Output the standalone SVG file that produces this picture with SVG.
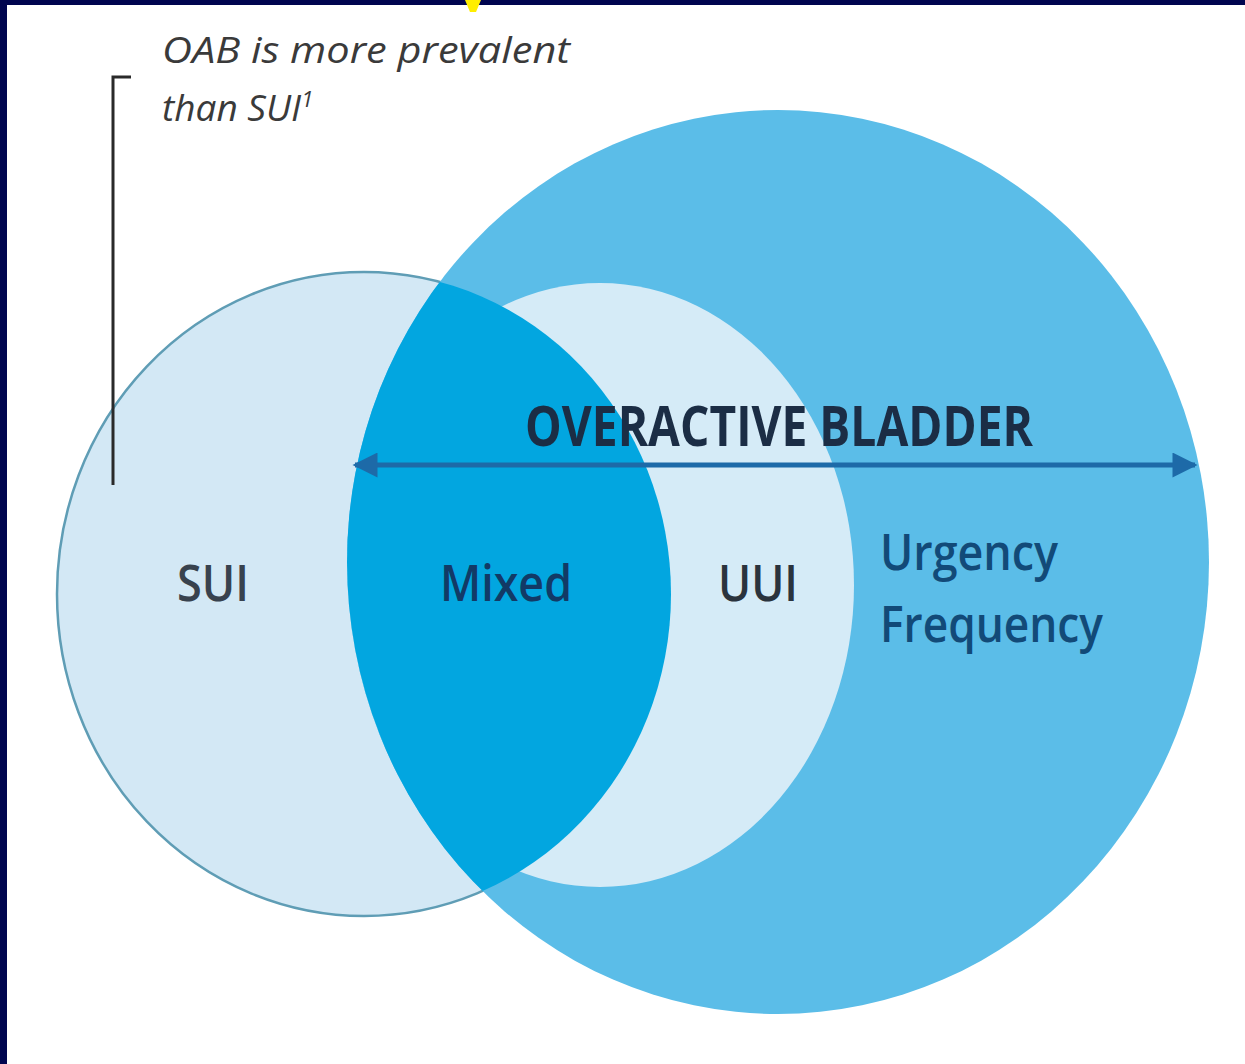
<svg xmlns="http://www.w3.org/2000/svg" width="1245" height="1064" viewBox="0 0 1245 1064">
<defs>
<style>
.lbl{font-family:"Open Sans","Noto Sans","DejaVu Sans",sans-serif;font-weight:600}
.title{font-family:"Open Sans","Noto Sans","DejaVu Sans",sans-serif;font-weight:700}
.note{font-family:"Open Sans","Noto Sans","DejaVu Sans",sans-serif;font-style:italic;font-size:37px;fill:#3a3a3a}
</style>
<clipPath id="bigClip"><ellipse cx="778" cy="562" rx="431" ry="452"/></clipPath>
<marker id="ah" viewBox="0 0 10 10" refX="9" refY="5" markerWidth="9" markerHeight="5" markerUnits="strokeWidth" orient="auto-start-reverse">
<path d="M0,0 L10,5 L0,10 Z" fill="#1d6aa8"/>
</marker>
</defs>
<rect x="0" y="0" width="1245" height="1064" fill="#00054f"/>
<rect x="7" y="5" width="1238" height="1059" fill="#ffffff"/>
<path d="M465,0 L481,0 L476,12 L470,12 Z" fill="#ffee00"/>
<g id="sui-circle">
<ellipse cx="364" cy="594" rx="307" ry="322" fill="#d3e8f5" stroke="#5f9db5" stroke-width="2.5"/>
</g>
<g id="oab-circle">
<ellipse cx="778" cy="562" rx="431" ry="452" fill="#5bbde8"/>
</g>
<g id="uui-ellipse">
<ellipse cx="600" cy="585" rx="254" ry="302" fill="#d5ebf7" clip-path="url(#bigClip)"/>
</g>
<g id="mixed">
<ellipse cx="364" cy="594" rx="307" ry="322" fill="#02a6e0" clip-path="url(#bigClip)"/>
</g>
<g id="note">
<path d="M131,77 L113,77 L113,485" fill="none" stroke="#2a2a2a" stroke-width="3"/>
<text class="note" x="162" y="63" textLength="408" lengthAdjust="spacingAndGlyphs">OAB is more prevalent</text>
<text class="note" x="162" y="121">than SUI<tspan font-size="22" dy="-14">1</tspan></text>
</g>
<g id="connectors">
<line x1="355" y1="465" x2="1195" y2="465" stroke="#1d6aa8" stroke-width="5" marker-start="url(#ah)" marker-end="url(#ah)"/>
</g>
<g id="labels">
<text class="title" x="525" y="446" font-size="56" fill="#1b2d45" textLength="508" lengthAdjust="spacingAndGlyphs">OVERACTIVE BLADDER</text>
<text class="lbl" x="177" y="601" font-size="50" fill="#38424e" textLength="72" lengthAdjust="spacingAndGlyphs">SUI</text>
<text class="lbl" x="440" y="601" font-size="50" fill="#123a66" textLength="132" lengthAdjust="spacingAndGlyphs">Mixed</text>
<text class="lbl" x="718" y="601" font-size="50" fill="#2a333d" textLength="80" lengthAdjust="spacingAndGlyphs">UUI</text>
<text class="lbl" x="880" y="570" font-size="50" fill="#124a78" textLength="178" lengthAdjust="spacingAndGlyphs">Urgency</text>
<text class="lbl" x="880" y="642" font-size="50" fill="#124a78" textLength="223" lengthAdjust="spacingAndGlyphs">Frequency</text>
</g>
</svg>
